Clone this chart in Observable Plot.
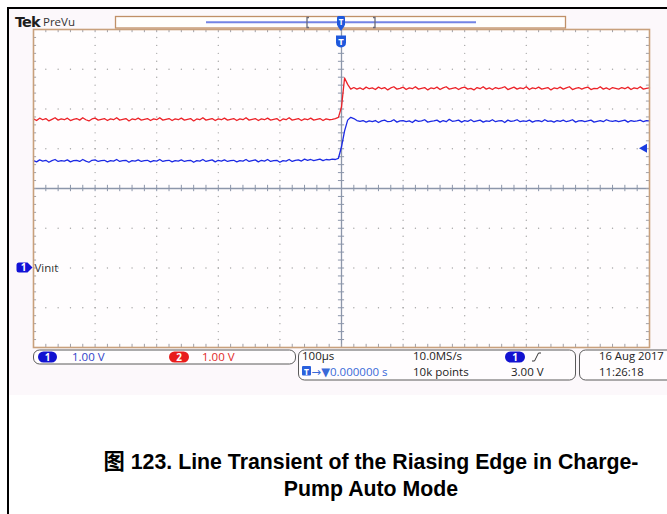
<!DOCTYPE html>
<html><head><meta charset="utf-8">
<script src="https://cdn.jsdelivr.net/npm/d3@7"></script>
<script src="https://cdn.jsdelivr.net/npm/@observablehq/plot@0.6"></script>
<style>
html,body{margin:0;padding:0;background:#fff;}
#wrap{position:relative;width:667px;height:514px;overflow:hidden;}
#chart{position:absolute;left:0;top:0;}
#frame{position:absolute;left:7px;top:7px;width:680px;height:530px;border-top:2px solid #000;border-left:2px solid #000;pointer-events:none;}
#caption{position:absolute;left:90px;width:562px;top:449px;text-align:center;font:bold 21.3px "Liberation Sans","Noto Sans CJK SC",sans-serif;line-height:27px;color:#000;}
#caption div{white-space:nowrap;}
</style></head>
<body><div id="wrap"><div id="chart"></div><div id="frame"></div><div id="caption"></div></div>
<script>
// ---- data (read from the oscilloscope capture) ----
// sample clock: 5 µs per point, -500 µs .. +500 µs (100 µs/div, trigger at 0)
const sampleTimes = d3.range(-500, 501, 5);
// channel 2 (red), volts, 1.00 V/div, ground at -2 div
const ch2Volts = [
3.75,3.71,3.77,3.73,3.76,3.70,3.74,3.78,3.72,3.75,
3.73,3.77,3.71,3.74,3.76,3.72,3.78,3.73,3.70,3.75,
3.77,3.72,3.74,3.76,3.71,3.75,3.73,3.78,3.72,3.74,
3.76,3.70,3.75,3.73,3.77,3.72,3.74,3.76,3.71,3.75,
3.73,3.78,3.72,3.74,3.76,3.71,3.75,3.73,3.77,3.72,
3.74,3.76,3.70,3.75,3.73,3.78,3.72,3.74,3.76,3.71,
3.75,3.73,3.77,3.72,3.74,3.76,3.71,3.75,3.73,3.78,
3.72,3.74,3.76,3.71,3.75,3.73,3.77,3.72,3.74,3.76,
3.70,3.75,3.73,3.78,3.72,3.74,3.76,3.71,3.75,3.73,
3.77,3.72,3.74,3.76,3.71,3.75,3.73,3.74,3.76,3.79,
4.05,4.78,4.62,4.50,4.54,4.50,4.53,4.49,4.55,4.51,
4.53,4.49,4.55,4.51,4.54,4.48,4.53,4.56,4.50,4.52,
4.55,4.49,4.53,4.51,4.56,4.50,4.52,4.54,4.48,4.53,
4.51,4.55,4.49,4.53,4.56,4.50,4.52,4.54,4.49,4.53,
4.55,4.50,4.52,4.48,4.54,4.51,4.56,4.50,4.53,4.49,
4.54,4.51,4.53,4.56,4.49,4.52,4.55,4.50,4.53,4.51,
4.56,4.49,4.53,4.51,4.55,4.50,4.52,4.54,4.48,4.53,
4.51,4.55,4.50,4.53,4.56,4.49,4.52,4.54,4.50,4.53,
4.55,4.49,4.52,4.51,4.56,4.50,4.53,4.49,4.54,4.52,
4.50,4.54,4.51,4.55,4.49,4.53,4.51,4.56,4.50,4.52,
4.53];
// channel 1 (blue, Vin), volts, 1.00 V/div, ground at -2 div
const ch1Volts = [
2.70,2.67,2.72,2.69,2.71,2.66,2.70,2.73,2.68,2.70,
2.69,2.72,2.67,2.70,2.71,2.68,2.73,2.69,2.66,2.71,
2.72,2.68,2.70,2.71,2.67,2.70,2.69,2.73,2.68,2.70,
2.71,2.66,2.70,2.69,2.72,2.68,2.70,2.71,2.67,2.70,
2.69,2.73,2.68,2.70,2.71,2.67,2.70,2.69,2.72,2.68,
2.70,2.71,2.66,2.70,2.69,2.73,2.68,2.70,2.72,2.67,
2.71,2.69,2.72,2.68,2.70,2.71,2.67,2.70,2.69,2.73,
2.68,2.70,2.72,2.67,2.71,2.69,2.73,2.68,2.70,2.71,
2.66,2.70,2.69,2.73,2.68,2.71,2.72,2.69,2.74,2.71,
2.73,2.70,2.72,2.74,2.70,2.73,2.72,2.74,2.73,2.76,
3.05,3.45,3.72,3.79,3.76,3.71,3.69,3.71,3.67,3.70,
3.68,3.71,3.66,3.70,3.72,3.68,3.69,3.73,3.67,3.70,
3.71,3.68,3.70,3.66,3.72,3.69,3.70,3.73,3.67,3.69,
3.70,3.72,3.67,3.71,3.68,3.74,3.69,3.70,3.72,3.67,
3.71,3.69,3.73,3.68,3.70,3.72,3.67,3.70,3.69,3.73,
3.68,3.70,3.71,3.66,3.72,3.69,3.70,3.73,3.68,3.70,
3.69,3.72,3.67,3.70,3.71,3.68,3.73,3.69,3.70,3.67,
3.71,3.69,3.72,3.68,3.70,3.73,3.67,3.70,3.71,3.68,
3.70,3.72,3.67,3.69,3.71,3.68,3.73,3.70,3.69,3.71,
3.68,3.70,3.72,3.67,3.71,3.69,3.70,3.72,3.68,3.71,
3.70];
const timeDomain = [-500, 500];        // µs, 10 div
const voltDomain = [-2, 6];            // V, 8 div (ground at -2 div)
const triggerLevel = 3.00;             // V
const ch1Label = "Vinıt";
const headerBrand = "Tek";
const headerMode = "PreVu";
const ch1Scale = "1.00 V";
const ch2Scale = "1.00 V";
const timeScale = "100µs";
const triggerPos = "→▼0.000000 s";
const sampleRate = "10.0MS/s";
const recordLen = "10k points";
const trigLevelText = "3.00 V";
const dateText = "16 Aug 2017";
const timeText = "11:26:18";
const captionLines = ["图 123. Line Transient of the Riasing Edge in Charge-", "Pump Auto Mode"];

// ---- tables built from the arrays ----
const n = Math.min(sampleTimes.length, ch1Volts.length, ch2Volts.length);
const ch1 = d3.range(n).map(i => ({t: sampleTimes[i], v: ch1Volts[i]}));
const ch2 = d3.range(n).map(i => ({t: sampleTimes[i], v: ch2Volts[i]}));

const gridT = [-400, -300, -200, -100, 100, 200, 300, 400];
const gridV = [-1, 0, 1, 3, 4, 5];
const minorV = d3.range(-9, 30).map(k => k / 5);     // every 0.2 div, inside
const minorT = d3.range(-24, 25).map(k => k * 20);   // every 0.2 div, inside
const gridDots = [];
for (const t of gridT) for (const v of minorV) gridDots.push({t, v});
for (const v of gridV) for (const t of minorT) gridDots.push({t, v});
const centerV = 2, centerT = 0;

const gridColor = "#a6a6a6";
const axisColor = "#8c96aa";
const tickColor = "#a0a0a8";

const chart = Plot.plot({
  width: 667, height: 400,
  marginLeft: 33, marginRight: 18, marginTop: 29, marginBottom: 53,
  x: {domain: timeDomain, axis: null},
  y: {domain: voltDomain, axis: null},
  style: {background: "transparent"},
  marks: [
    Plot.frame({fill: "#fffdfe", stroke: "none"}),
    Plot.dot(gridDots, {x: "t", y: "v", r: 0.7, fill: gridColor, stroke: "none"}),
    Plot.ruleY([centerV], {stroke: axisColor, strokeWidth: 1.3}),
    Plot.ruleX([centerT], {stroke: axisColor, strokeWidth: 1.3}),
    Plot.ruleX(minorT, {x: d => d, y1: centerV - 0.08, y2: centerV + 0.08, stroke: axisColor, strokeWidth: 1}),
    Plot.ruleY(minorV, {y: d => d, x1: -5, x2: 5, stroke: axisColor, strokeWidth: 1}),
    Plot.ruleX(minorT, {x: d => d, y1: 6, y2: 5.92, stroke: tickColor, strokeWidth: 1}),
    Plot.ruleX(minorT, {x: d => d, y1: -2, y2: -1.92, stroke: tickColor, strokeWidth: 1}),
    Plot.ruleY(minorV, {y: d => d, x1: -500, x2: -495, stroke: tickColor, strokeWidth: 1}),
    Plot.ruleY(minorV, {y: d => d, x1: 500, x2: 495, stroke: tickColor, strokeWidth: 1}),
    Plot.line(ch2, {x: "t", y: "v", stroke: "#ec2228", strokeWidth: 1.3}),
    Plot.line(ch1, {x: "t", y: "v", stroke: "#1c2ae4", strokeWidth: 1.3}),
    Plot.frame({stroke: "#c8a07c", strokeWidth: 1.6})
  ]
});
document.getElementById("chart").appendChild(chart);

// ---- scope decorations ----
const X = chart.scale("x"), Y = chart.scale("y");
const svg = d3.select(chart);
svg.insert("rect", ":first-child").attr("x", 9).attr("y", 9).attr("width", 660).attr("height", 386).attr("fill", "#fcf8fb");
const deco = svg.append("g").attr("font-family", "'Open Sans', 'DejaVu Sans', sans-serif").attr("text-anchor", "start");
function txt(x, y, s, size, fill, weight) {
  return deco.append("text").attr("x", x).attr("y", y).attr("font-size", size).attr("fill", fill)
    .attr("font-weight", weight || "normal").text(s);
}
// header
txt(15, 26.5, headerBrand, 14.5, "#1e1e1e", "bold").attr("font-family", "'DejaVu Sans', sans-serif").attr("letter-spacing", "-0.9");
txt(43, 26, headerMode, 11.5, "#333");
// record bar
deco.append("rect").attr("x", 115.5).attr("y", 16.5).attr("width", 450).attr("height", 11.5).attr("fill", "#fffefd").attr("stroke", "#c09068").attr("stroke-width", 1.3);
deco.append("line").attr("x1", 206).attr("x2", 476).attr("y1", 22.2).attr("y2", 22.2).attr("stroke", "#7484e4").attr("stroke-width", 2);
deco.append("path").attr("d", "M309,17.5 h-2 v10 h2 M373,17.5 h2 v10 h-2").attr("fill", "none").attr("stroke", "#6a6a78").attr("stroke-width", 1.3);
// trigger position marker
const cx = X.apply(0);
deco.append("rect").attr("x", cx - 4).attr("y", 16).attr("width", 8).attr("height", 10).attr("rx", 1.5).attr("fill", "#1f58dc");
txt(cx, 24.5, "T", 8, "#fff", "bold").attr("text-anchor", "middle");
deco.append("path").attr("d", `M${cx - 3.5},26 L${cx + 3.5},26 L${cx},31 Z`).attr("fill", "#1f58dc");
deco.append("path").attr("d", `M${cx - 5},35.5 h10 v7 q0,4.5 -5,5 q-5,-0.5 -5,-5 z`).attr("fill", "#1f58dc");
txt(cx, 45, "T", 9.5, "#fff", "bold").attr("text-anchor", "middle");
// trigger level arrow (right)
const yT = Y.apply(triggerLevel);
deco.append("path").attr("d", `M639,${yT} L647,${yT - 4.5} L647,${yT + 4.5} Z`).attr("fill", "#1a3ce0");
// ch1 ground marker
const yG = Y.apply(0);
deco.append("path").attr("d", `M19,${yG - 5} h8.5 l5,5 l-5,5 h-8.5 q-2.5,0 -2.5,-2.5 v-5 q0,-2.5 2.5,-2.5 z`).attr("fill", "#1212d6");
txt(23.5, yG + 3.8, "1", 10, "#fff", "bold").attr("text-anchor", "middle");
txt(34.5, yG + 4, ch1Label, 11.5, "#333");
// status boxes
const boxStroke = "#5a5a5a";
deco.append("rect").attr("x", 33.5).attr("y", 350).attr("width", 262).attr("height", 14).attr("rx", 6).attr("fill", "#fffdfe").attr("stroke", boxStroke).attr("stroke-width", 1);
deco.append("rect").attr("x", 298.5).attr("y", 350).attr("width", 277).attr("height", 30).attr("rx", 6).attr("fill", "#fffdfe").attr("stroke", boxStroke).attr("stroke-width", 1);
deco.append("rect").attr("x", 579.5).attr("y", 350).attr("width", 100).attr("height", 30).attr("rx", 6).attr("fill", "#fffdfe").attr("stroke", boxStroke).attr("stroke-width", 1);
function pill(x, w, fill, s) {
  deco.append("rect").attr("x", x).attr("y", 351.5).attr("width", w).attr("height", 11).attr("rx", 5.5).attr("fill", fill);
  txt(x + w / 2, 361, s, 10, "#fff", "bold").attr("text-anchor", "middle");
}
pill(38, 19, "#1212d0", "1");
txt(72, 361, ch1Scale, 11.5, "#2f3fc8");
pill(169, 20, "#e81c1c", "2");
txt(202, 361, ch2Scale, 11.5, "#e02828");
txt(302, 360, timeScale, 11.5, "#222");
deco.append("rect").attr("x", 302).attr("y", 366).attr("width", 9).attr("height", 9.5).attr("rx", 1).attr("fill", "#2a60dc");
txt(306.5, 374.5, "T", 8.5, "#fff", "bold").attr("text-anchor", "middle");
txt(311.5, 376, triggerPos, 11.5, "#3a6ad8");
txt(413, 360, sampleRate, 11.5, "#222");
txt(413, 376, recordLen, 11.5, "#222");
pill(505, 20, "#1212d0", "1");
deco.append("path").attr("d", "M532,361 h2.5 l4,-8 h2.5").attr("fill", "none").attr("stroke", "#333").attr("stroke-width", 1);
txt(511, 376, trigLevelText, 11.5, "#222");
txt(599, 360, dateText, 11.3, "#222");
txt(599, 376, timeText, 11.3, "#222");

// caption
const cap = d3.select("#caption");
for (const line of captionLines) cap.append("div").text(line);
</script>
</body></html>
